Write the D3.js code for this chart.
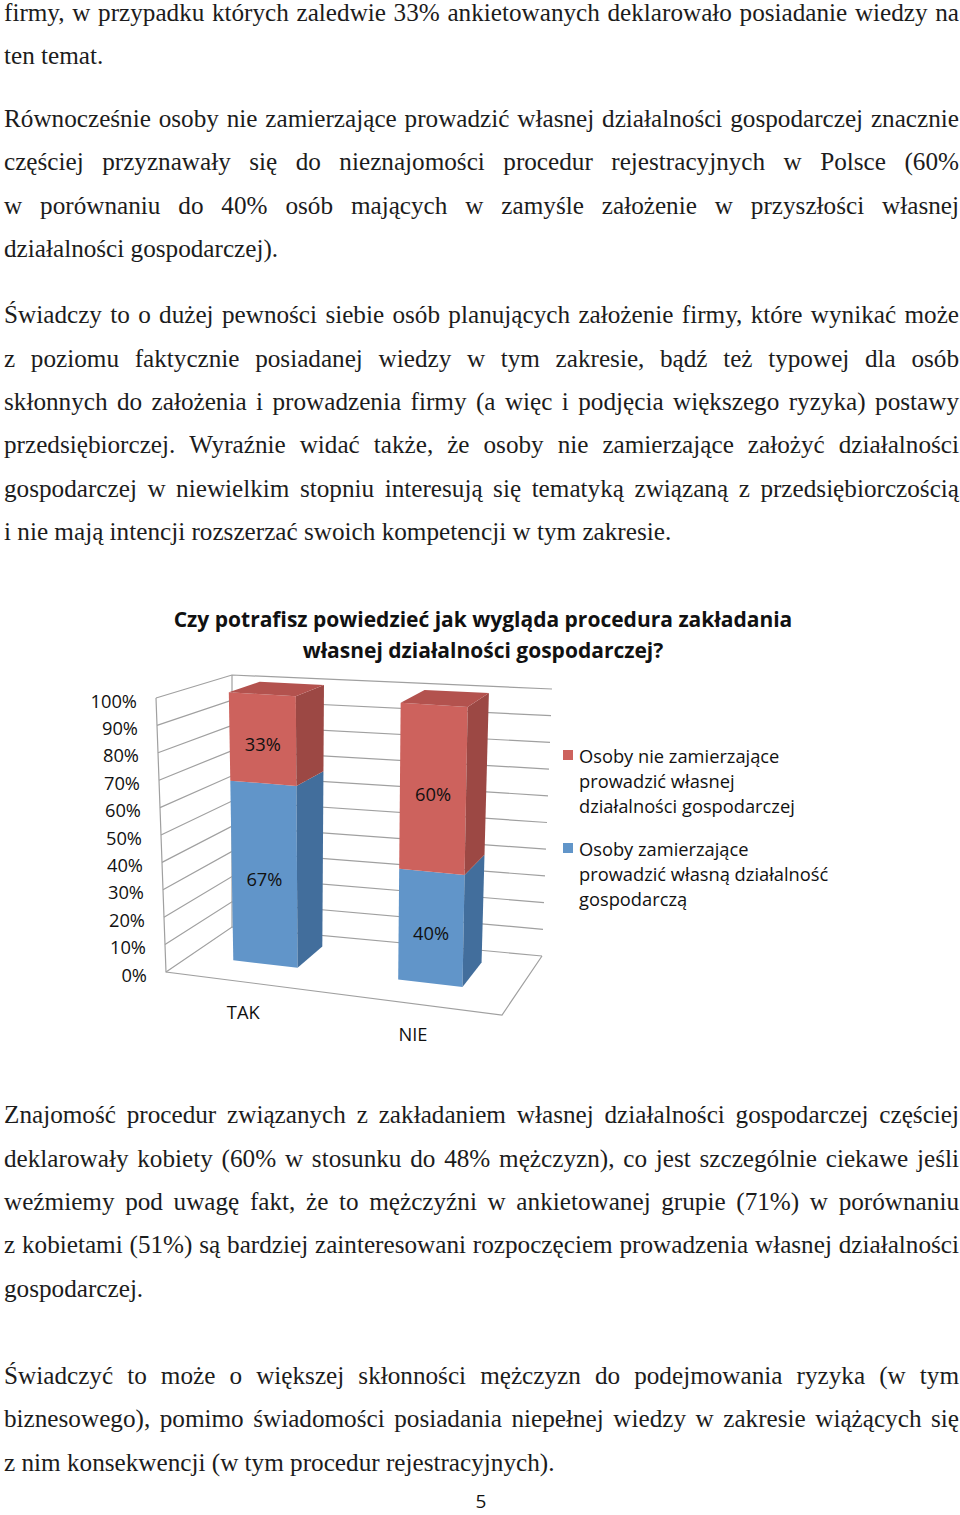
<!DOCTYPE html>
<html>
<head>
<meta charset="utf-8">
<script src="https://cdn.jsdelivr.net/npm/d3@7"></script>
<style>
  body { margin: 0; background: #fff; }
  svg { display: block; }
  .body-text { font-family: "Liberation Serif", "Times New Roman", serif; font-size: 25.2px; fill: #1c1c1c; }
  .chart-text { font-family: "Open Sans", "Noto Sans", sans-serif; fill: #111; }
</style>
</head>
<body>
<div id="page"></div>
<script>
// chart data
const categories = ['TAK', 'NIE'];
const plannersValues = [67, 40];      // Osoby zamierzające prowadzić własną działalność gospodarczą
const nonPlannersValues = [33, 60];   // Osoby nie zamierzające prowadzić własnej działalności gospodarczej
const tickValues = [0, 10, 20, 30, 40, 50, 60, 70, 80, 90, 100];
const titleLines = ['Czy potrafisz powiedzieć jak wygląda procedura zakładania', 'własnej działalności gospodarczej?'];
const legendNonPlanners = ['Osoby nie zamierzające', 'prowadzić własnej', 'działalności gospodarczej'];
const legendPlanners = ['Osoby zamierzające', 'prowadzić własną działalność', 'gospodarczą'];

// page text, one entry per printed line
const paragraphTop = [
  ['firmy, w przypadku których zaledwie 33% ankietowanych deklarowało posiadanie wiedzy na',
   'ten temat.'],
  ['Równocześnie osoby nie zamierzające prowadzić własnej działalności gospodarczej znacznie',
   'częściej przyznawały się do nieznajomości procedur rejestracyjnych w Polsce (60%',
   'w porównaniu do 40% osób mających w zamyśle założenie w przyszłości własnej',
   'działalności gospodarczej).'],
  ['Świadczy to o dużej pewności siebie osób planujących założenie firmy, które wynikać może',
   'z poziomu faktycznie posiadanej wiedzy w tym zakresie, bądź też typowej dla osób',
   'skłonnych do założenia i prowadzenia firmy (a więc i podjęcia większego ryzyka) postawy',
   'przedsiębiorczej. Wyraźnie widać także, że osoby nie zamierzające założyć działalności',
   'gospodarczej w niewielkim stopniu interesują się tematyką związaną z przedsiębiorczością',
   'i nie mają intencji rozszerzać swoich kompetencji w tym zakresie.']
];
const paragraphBottom = [
  ['Znajomość procedur związanych z zakładaniem własnej działalności gospodarczej częściej',
   'deklarowały kobiety (60% w stosunku do 48% mężczyzn), co jest szczególnie ciekawe jeśli',
   'weźmiemy pod uwagę fakt, że to mężczyźni w ankietowanej grupie (71%) w porównaniu',
   'z kobietami (51%) są bardziej zainteresowani rozpoczęciem prowadzenia własnej działalności',
   'gospodarczej.'],
  ['Świadczyć to może o większej skłonności mężczyzn do podejmowania ryzyka (w tym',
   'biznesowego), pomimo świadomości posiadania niepełnej wiedzy w zakresie wiążących się',
   'z nim konsekwencji (w tym procedur rejestracyjnych).']
];
const pageNumber = '5';

const width = 960;
const height = 1515;
const textLeft = 4;
const textRight = 959;
const linePitch = 43.35;

const svg = d3.select('#page').append('svg')
  .attr('width', width)
  .attr('height', height);

// ---- body text, justified word by word ----
const measurer = svg.append('text').attr('class', 'body-text').attr('x', -1000).attr('y', -1000);
function wordWidth(w) {
  measurer.text(w);
  return measurer.node().getComputedTextLength();
}

function drawParagraphs(paras, firstBaselines) {
  paras.forEach((lines, p) => {
    lines.forEach((line, i) => {
      const y = firstBaselines[p] + i * linePitch;
      const t = svg.append('text').attr('class', 'body-text').attr('y', y);
      const last = i === lines.length - 1;
      if (last) {
        t.attr('x', textLeft).text(line);
        return;
      }
      const words = line.split(' ');
      const widths = words.map(wordWidth);
      const gap = Math.max(4, (textRight - textLeft - d3.sum(widths)) / (words.length - 1));
      let x = textLeft;
      words.forEach((w, k) => {
        t.append('tspan').attr('x', x).text(w);
        x += widths[k] + gap;
      });
    });
  });
}
drawParagraphs(paragraphTop, [21, 127, 323.3]);
drawParagraphs(paragraphBottom, [1123.3, 1384]);
measurer.remove();

svg.append('text')
  .attr('class', 'chart-text')
  .attr('x', 481)
  .attr('y', 1508)
  .attr('text-anchor', 'middle')
  .style('font-size', '19px')
  .text(pageNumber);

// ---- 3D stacked column chart ----
// screen corners of the plot box: f/b = front/back, l/r = left/right, b/t = bottom/top
const box = {
  flb: [166, 972], flt: [156, 698], frb: [502, 1015], frt: [508, 723],
  blb: [232, 927], blt: [232, 675], brb: [542, 956], brt: [552, 689]
};
const lerp = (a, b, t) => [a[0] + (b[0] - a[0]) * t, a[1] + (b[1] - a[1]) * t];
// u across categories, v value (0..1), w depth (0 front .. 1 back)
function project(u, v, w) {
  const f = lerp(lerp(box.flb, box.frb, u), lerp(box.flt, box.frt, u), v);
  const b = lerp(lerp(box.blb, box.brb, u), lerp(box.blt, box.brt, u), v);
  return lerp(f, b, w);
}

const xScale = d3.scaleBand()
  .domain(categories)
  .range([0, 0.965])
  .paddingInner(0.61)
  .paddingOuter(0.26);
const yScale = d3.scaleLinear().domain([0, 100]).range([0, 1]);
const depth0 = 0.37;
const depth1 = 0.8;

const gridColor = '#a0a0a0';
const chart = svg.append('g').attr('class', 'chart');
const line = d3.line();

// walls and gridlines
tickValues.forEach(t => {
  const v = yScale(t);
  chart.append('path')
    .attr('d', line([project(0, v, 0), project(0, v, 1), project(1, v, 1)]))
    .attr('fill', 'none')
    .attr('stroke', gridColor)
    .attr('stroke-width', 1.2);
});
chart.append('path')
  .attr('d', line([project(0, 1, 0), project(0, 0, 0), project(1, 0, 0), project(1, 0, 1)]))
  .attr('fill', 'none')
  .attr('stroke', gridColor)
  .attr('stroke-width', 1.2);
chart.append('path')
  .attr('d', line([project(0, 1, 1), project(0, 0, 1)]))
  .attr('fill', 'none')
  .attr('stroke', gridColor)
  .attr('stroke-width', 1.2);

// y axis labels
chart.selectAll('.ytick')
  .data(tickValues)
  .enter().append('text')
  .attr('class', 'chart-text ytick')
  .attr('x', d => project(0, yScale(d), 0)[0] - 19)
  .attr('y', d => project(0, yScale(d), 0)[1] + 2)
  .attr('text-anchor', 'end')
  .attr('dominant-baseline', 'central')
  .style('font-size', '18.3px')
  .text(d => d + '%');

// stacked data
const table = categories.map((c, i) => ({cat: c, planners: plannersValues[i], nonPlanners: nonPlannersValues[i]}));
const stack = d3.stack().keys(['planners', 'nonPlanners'])(table);
const faceColors = {
  planners: {front: '#6195c9', side: '#426e9c', top: '#5a88b9'},
  nonPlanners: {front: '#cd625d', side: '#9c4844', top: '#b3524e'}
};

const poly = pts => 'M' + pts.map(p => p.join(',')).join('L') + 'Z';

categories.forEach((c, i) => {
  const u0 = xScale(c);
  const u1 = u0 + xScale.bandwidth();
  const g = chart.append('g');
  stack.forEach((series, s) => {
    const v0 = yScale(series[i][0]);
    const v1 = yScale(series[i][1]);
    const col = faceColors[series.key];
    g.append('path')
      .attr('d', poly([project(u0, v0, depth0), project(u1, v0, depth0), project(u1, v1, depth0), project(u0, v1, depth0)]))
      .attr('fill', col.front);
    g.append('path')
      .attr('d', poly([project(u1, v0, depth0), project(u1, v0, depth1), project(u1, v1, depth1), project(u1, v1, depth0)]))
      .attr('fill', col.side);
    if (s === stack.length - 1) {
      g.append('path')
        .attr('d', poly([project(u0, v1, depth0), project(u1, v1, depth0), project(u1, v1, depth1), project(u0, v1, depth1)]))
        .attr('fill', col.top);
    }
    const mid = project((u0 + u1) / 2, (v0 + v1) / 2, depth0);
    g.append('text')
      .attr('class', 'chart-text')
      .attr('x', mid[0])
      .attr('y', mid[1] + 5)
      .attr('text-anchor', 'middle')
      .attr('dominant-baseline', 'central')
      .style('font-size', '18.3px')
      .text(Math.round(series[i][1] - series[i][0]) + '%');
  });

  // category label
  const base = project((u0 + u1) / 2, 0, 0);
  chart.append('text')
    .attr('class', 'chart-text')
    .attr('x', base[0])
    .attr('y', base[1] + 30)
    .attr('text-anchor', 'middle')
    .attr('dominant-baseline', 'central')
    .style('font-size', '18.3px')
    .text(c);
});

// title
titleLines.forEach((t, i) => {
  svg.append('text')
    .attr('class', 'chart-text')
    .attr('x', 483)
    .attr('y', 627 + i * 31)
    .attr('text-anchor', 'middle')
    .style('font-size', '21px')
    .style('font-weight', 'bold')
    .text(t);
});

// legend
const legend = svg.append('g').attr('class', 'legend');
[[legendNonPlanners, faceColors.nonPlanners.front, 755], [legendPlanners, faceColors.planners.front, 848]]
  .forEach(([lines, color, y]) => {
    legend.append('rect')
      .attr('x', 563)
      .attr('y', y - 5)
      .attr('width', 10)
      .attr('height', 10)
      .attr('fill', color);
    lines.forEach((l, k) => {
      legend.append('text')
        .attr('class', 'chart-text')
        .attr('x', 579)
        .attr('y', y + k * 25)
        .attr('dominant-baseline', 'central')
        .style('font-size', '18.3px')
        .text(l);
    });
  });
</script>
</body>
</html>
